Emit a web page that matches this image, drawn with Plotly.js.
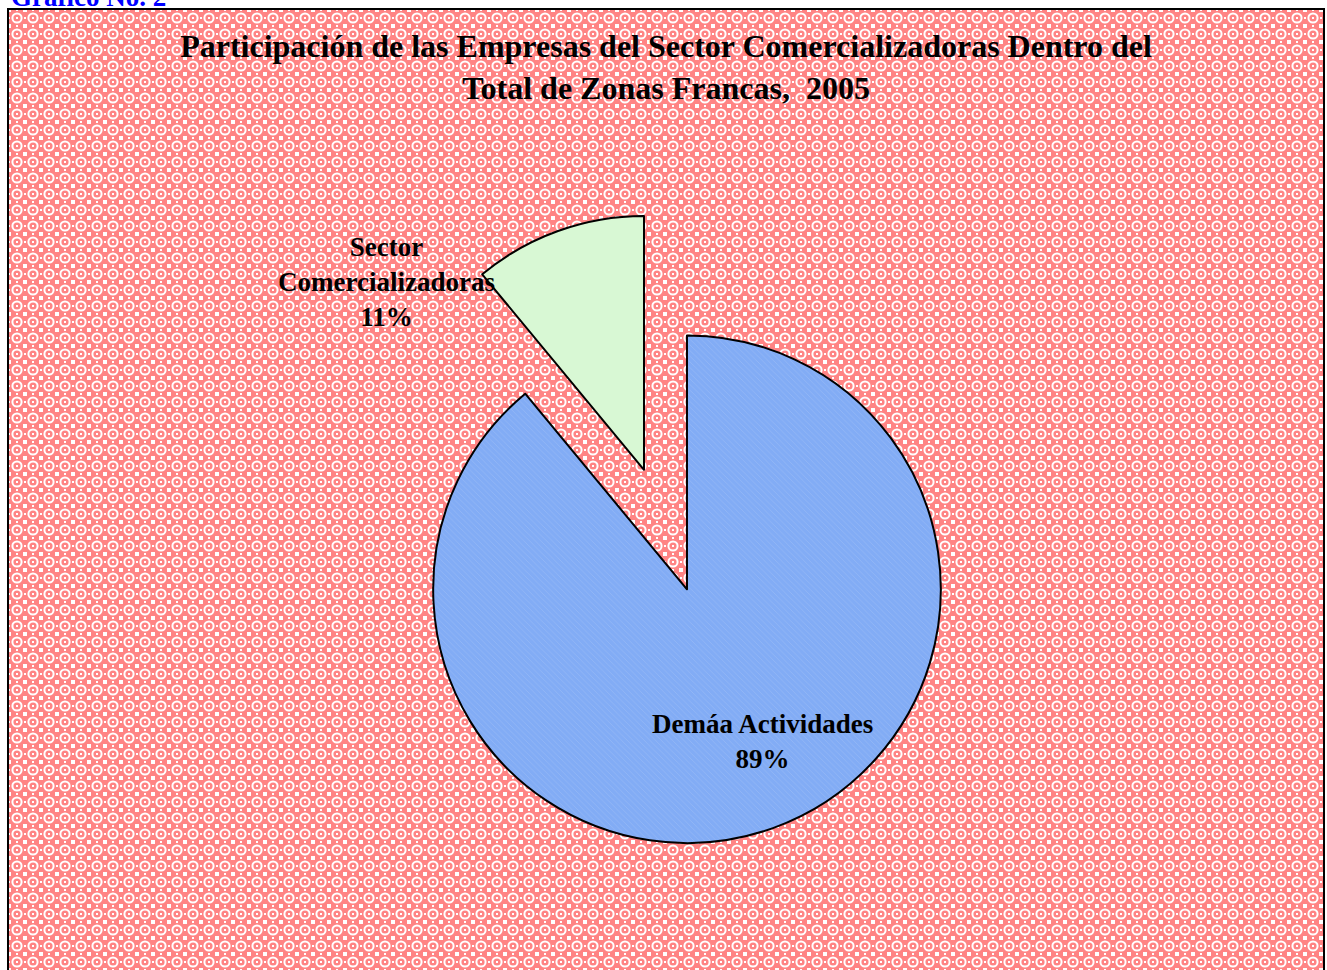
<!DOCTYPE html>
<html>
<head>
<meta charset="utf-8">
<script src="https://cdn.plot.ly/plotly-3.0.1.min.js"></script>
<style>
  html, body { margin: 0; padding: 0; background: #ffffff; overflow: hidden; }
  #frame {
    position: absolute; left: 7px; top: 8px; width: 1314px; height: 980px;
    border: 2px solid #000;
    background-color: #ffc0c0;
    background-image: url("data:image/svg+xml,%3Csvg xmlns='http://www.w3.org/2000/svg' width='16' height='16'%3E%3Crect width='16' height='16' fill='%23ff8484'/%3E%3Ccircle cx='8' cy='8' r='4.6' fill='none' stroke='white' stroke-width='2'/%3E%3Crect x='7' y='7' width='2' height='2' fill='white'/%3E%3Crect x='0' y='0' width='2' height='2' fill='white'/%3E%3Crect x='14' y='0' width='2' height='2' fill='white'/%3E%3Crect x='0' y='14' width='2' height='2' fill='white'/%3E%3Crect x='14' y='14' width='2' height='2' fill='white'/%3E%3Crect x='7' y='0' width='2' height='1' fill='white'/%3E%3Crect x='7' y='15' width='2' height='1' fill='white'/%3E%3Crect x='0' y='7' width='1' height='2' fill='white'/%3E%3Crect x='15' y='7' width='1' height='2' fill='white'/%3E%3C/svg%3E");
  }
  #chart { position: absolute; left: 0; top: 0; width: 1327px; height: 970px; }
</style>
</head>
<body>
<div id="frame"></div>
<div id="chart"></div>
<script>
// ---- data ----
const categories = ['Sector Comercializadoras', 'Demáa Actividades'];
const displayLabels = ['Sector<br>Comercializadoras', 'Demáa Actividades'];
const values = [11, 89];
const sliceColors = ['#d8f8d4', '#82acf5'];
const hatchColors = ['#d8f8d4', '#c0d4f6'];
const hatchShapes = ['', '\\'];
const pulls = [0.5, 0];
const titleText = 'Participación de las Empresas del Sector Comercializadoras Dentro del<br>Total de Zonas Francas,  2005';
const headerText = 'Gráfico No. 2';

const W = 1327, H = 970;
const serif = '"Liberation Serif", "Times New Roman", Times, serif';
const total = values.reduce((a, b) => a + b, 0);
const pct = values.map(v => Math.round(v / total * 100) + '%');

// label anchor positions (pixels from top-left)
const labelPos = [[386, 282], [762, 741]];

const trace = {
  type: 'pie',
  labels: categories,
  values: values,
  sort: false,
  direction: 'clockwise',
  // first slice ends at 12 o'clock, lying to its left
  rotation: -values[0] / total * 360,
  pull: pulls,
  textinfo: 'none',
  hoverinfo: 'label+percent',
  marker: {
    colors: sliceColors,
    line: { color: '#000000', width: 2 },
    pattern: {
      shape: hatchShapes,
      size: 4,
      solidity: 0.12,
      bgcolor: sliceColors,
      fgcolor: hatchColors,
      fgopacity: 0.5
    }
  },
  domain: { x: [0.0354, 1.0], y: [0, 0.785] },
  showlegend: false
};

const annotations = categories.map((c, i) => ({
  xref: 'paper', yref: 'paper',
  x: labelPos[i][0] / W, y: 1 - labelPos[i][1] / H,
  xanchor: 'center', yanchor: 'middle',
  text: displayLabels[i] + '<br>' + pct[i],
  showarrow: false,
  align: 'center',
  font: { family: serif, size: 27, color: '#000000', weight: 'bold' }
}));

annotations.push({
  xref: 'paper', yref: 'paper',
  x: 9 / W, y: 1 + 3 / H,
  xanchor: 'left', yanchor: 'middle',
  text: headerText,
  showarrow: false,
  font: { family: serif, size: 27, color: '#0000ff', weight: 'bold' }
});

const layout = {
  width: W, height: H,
  margin: { l: 0, r: 0, t: 0, b: 0 },
  paper_bgcolor: 'rgba(0,0,0,0)',
  plot_bgcolor: 'rgba(0,0,0,0)',
  title: {
    text: titleText,
    x: 666 / W, xref: 'paper', xanchor: 'center',
    y: 1 - 57 / H, yref: 'container', yanchor: 'middle',
    font: { family: serif, size: 32, color: '#000000', weight: 'bold' }
  },
  annotations: annotations
};

Plotly.newPlot('chart', [trace], layout, { displayModeBar: false, staticPlot: true });
</script>
</body>
</html>
